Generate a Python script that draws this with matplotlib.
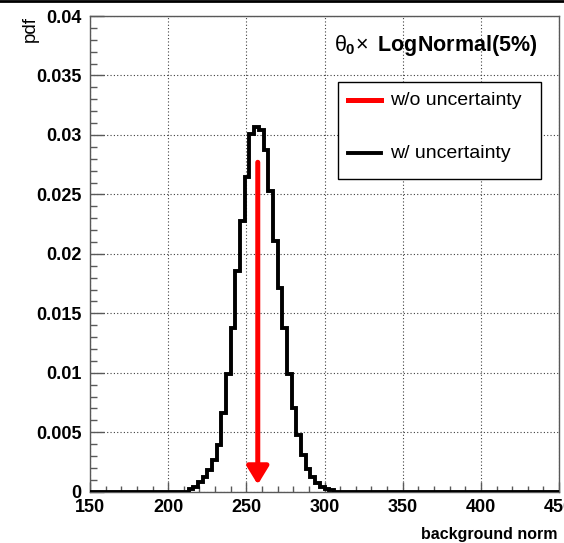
import numpy as np
import matplotlib
matplotlib.use("Agg")
import matplotlib.pyplot as plt
from matplotlib.lines import Line2D
from matplotlib.patches import Rectangle
from matplotlib.ticker import MultipleLocator, FuncFormatter

# ---------------------------------------------------------------------------
# dados
# ---------------------------------------------------------------------------
x_min, x_max, bin_w = 150, 450, 3
first_bin = 213          # primeiro bin nao nulo (borda esquerda)
pdf_vals = [0.0002, 0.00042, 0.00084, 0.00126, 0.00182, 0.00266, 0.00392,
            0.0066, 0.0099, 0.0138, 0.0186, 0.0228, 0.0265, 0.0301,
            0.0307, 0.0304, 0.0287, 0.0253, 0.0211, 0.0171, 0.0138,
            0.0099, 0.0070, 0.00476, 0.00308, 0.00188, 0.00126, 0.00076,
            0.00042, 0.0002, 0.0001]
theta0 = 257.3           # valor nominal (seta vermelha)
arrow_top = 0.0277
arrow_tip = 0.0006

x_ticks = [150, 200, 250, 300, 350, 400, 450]
y_ticks = [0, 0.005, 0.01, 0.015, 0.02, 0.025, 0.03, 0.035, 0.04]
legend_labels = ["w/o uncertainty", "w/ uncertainty"]

# histograma completo (bins vazios = 0)
edges = np.arange(x_min, x_max + bin_w, bin_w)
hist = np.zeros(len(edges) - 1)
i0 = (first_bin - x_min) // bin_w
hist[i0:i0 + len(pdf_vals)] = pdf_vals

# ---------------------------------------------------------------------------
# estilo
# ---------------------------------------------------------------------------
plt.rcParams["font.family"] = ["Liberation Sans", "DejaVu Sans"]
plt.rcParams["mathtext.fontset"] = "custom"
plt.rcParams["mathtext.rm"] = "Liberation Sans"
plt.rcParams["mathtext.it"] = "Liberation Sans"   # theta em pe, como no ROOT
plt.rcParams["mathtext.bf"] = "Liberation Sans:bold"

fig = plt.figure(figsize=(5.64, 5.43), dpi=100)
ax = fig.add_axes([0.1596, 0.0945, 0.8316, 0.876])

ax.stairs(hist, edges, color="black", lw=2.8, zorder=3)

ax.annotate("", xy=(theta0, arrow_tip), xytext=(theta0, arrow_top),
            arrowprops=dict(arrowstyle="-|>,head_length=0.9,head_width=0.55",
                            color="red", lw=3.6, mutation_scale=12,
                            shrinkA=0, shrinkB=0), zorder=4)

ax.set_xlim(x_min, x_max)
ax.set_ylim(0, 0.04)
ax.set_xticks(x_ticks)
ax.set_yticks(y_ticks)
ax.xaxis.set_minor_locator(MultipleLocator(10))
ax.yaxis.set_minor_locator(MultipleLocator(0.001))
ax.yaxis.set_major_formatter(FuncFormatter(lambda v, p: "%g" % v))

ax.tick_params(which="both", direction="in", color="0.35", width=1,
               top=False, right=False)
ax.tick_params(axis="y", which="major", length=10, pad=6)
ax.tick_params(axis="y", which="minor", length=5)
ax.tick_params(axis="x", which="major", length=7, pad=5)
ax.tick_params(axis="x", which="minor", length=4)
for lab in ax.get_xticklabels() + ax.get_yticklabels():
    lab.set_fontweight("bold")
    lab.set_fontsize(13)

ax.grid(True, which="major", color="0.25", lw=0.8, linestyle=(0, (1, 2)))
ax.set_axisbelow(True)
for sp in ax.spines.values():
    sp.set_color("0.35")
    sp.set_linewidth(1)

ax.text(-0.128, 1.0, "pdf", rotation=90, ha="center", va="top",
        fontsize=13.5, transform=ax.transAxes)
ax.text(0.996, -0.091, "background norm", ha="right", va="center",
        fontsize=11.5, fontweight="bold", transform=ax.transAxes)

ax.text(0.953, 0.926, r"$\theta_{\mathbf{0}}\!\times$ $\mathbf{LogNormal(5\%)}$",
        ha="right", va="baseline", fontsize=15.5, transform=ax.transAxes,
        zorder=6)

# legenda desenhada a mao (estilo ROOT)
ax.add_patch(Rectangle((0.529, 0.657), 0.433, 0.204, transform=ax.transAxes,
                       facecolor="white", edgecolor="black", lw=1, zorder=5))
ax.add_line(Line2D([0.550, 0.620], [0.823, 0.823], transform=ax.transAxes,
                   color="red", lw=3.6, zorder=6))
ax.add_line(Line2D([0.550, 0.620], [0.712, 0.712], transform=ax.transAxes,
                   color="black", lw=2.8, zorder=6))
ax.text(0.640, 0.823, legend_labels[0], ha="left", va="center", fontsize=14,
        transform=ax.transAxes, zorder=6)
ax.text(0.640, 0.712, legend_labels[1], ha="left", va="center", fontsize=14,
        transform=ax.transAxes, zorder=6)

# borda superior do canvas
fig.add_artist(Line2D([0, 1], [1 - 1 / 543, 1 - 1 / 543],
                      transform=fig.transFigure, color="black", lw=2))

fig.savefig("out.png", dpi=100)
